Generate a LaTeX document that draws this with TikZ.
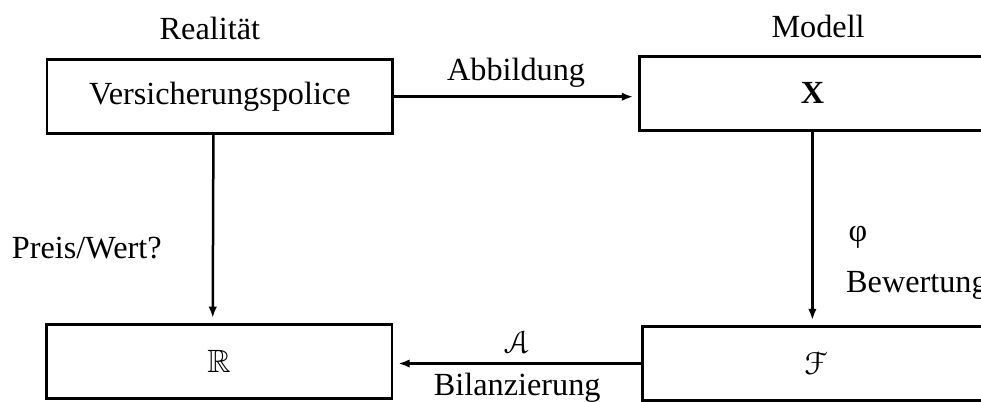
\documentclass[tikz,border=0pt]{standalone}
\usepackage{amsmath,amssymb}
\usepackage{eucal}
\usepackage{fontspec}
\setmainfont{Liberation Serif}
\usetikzlibrary{arrows.meta}

\tikzset{
  feld/.style={draw=black, line width=1.1pt,
  minimum width=4.86cm,
  minimum height=1.04cm, inner sep=0pt},
  pfeil/.style={-{Latex[length=1.6mm,width=1.2mm]}, line width=1pt, shorten >=2pt}
}

\begin{document}
\begin{tikzpicture}[font=\fontsize{12.9}{15}\selectfont]
  \useasboundingbox (0,0) rectangle (13.79,5.64);
  \clip (0,0) rectangle (13.79,5.64);

  \node (real) at (2.95, 5.24) {Realität};
  \node (mod) at (11.50, 5.27) {Modell};

  \node[feld] (V) at (3.09, 4.28) {Versicherungspolice};
  \node[feld] (X) at (11.42, 4.33) {\textbf{X}};
  \node[feld] (R) at (3.08, 0.56) {$\mathbb{R}$};
  \node[feld] (F) at (11.46, 0.53) {$\mathcal{F}$};

  \node (preis) at (1.22, 2.15) {Preis/Wert?};
  \node (phi) at (12.06, 2.31) {φ};
  \node (bew) at (12.89, 1.63) {Bewertung};

  \draw[pfeil] (V.east) -- node[above] {Abbildung} (V.east -| X.west);
  \draw[pfeil] ([xshift=-0.09cm]V.south) -- ([xshift=-0.09cm]R.north);
  \draw[pfeil] (X.south) -- (X.south |- F.north);
  \draw[pfeil] (F.west) -- node[above] {$\mathcal{A}$} node[below] {Bilanzierung} (F.west -| R.east);
\end{tikzpicture}
\end{document}
